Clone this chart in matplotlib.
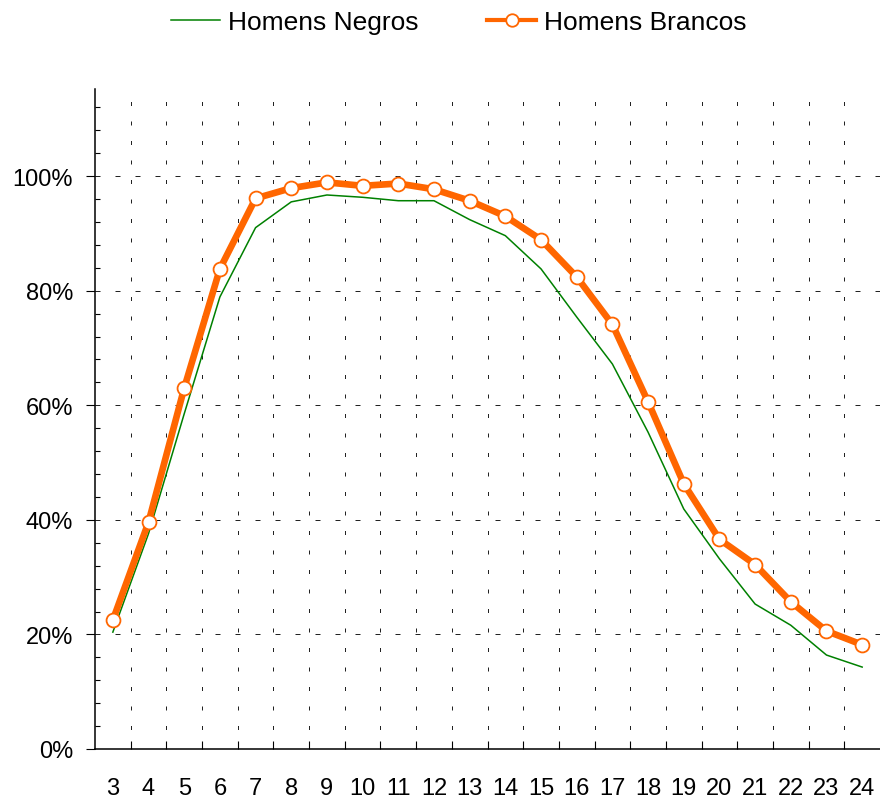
import numpy as np
import matplotlib
matplotlib.use('Agg')
import matplotlib.pyplot as plt
from matplotlib.ticker import FixedLocator, MultipleLocator, FuncFormatter

# ========== 資料 ==========
idades = [3, 4, 5, 6, 7, 8, 9, 10, 11, 12, 13, 14, 15, 16, 17, 18, 19, 20, 21, 22, 23, 24]
negros = [20.4, 37.6, 58.5, 78.9, 91.0, 95.5, 96.7, 96.3, 95.7, 95.7, 92.4, 89.6,
          83.8, 75.4, 67.2, 55.3, 41.9, 33.2, 25.3, 21.6, 16.4, 14.3]
brancos = [22.5, 39.6, 63.0, 83.8, 96.1, 97.9, 98.9, 98.3, 98.7, 97.7, 95.7, 93.0,
           88.9, 82.4, 74.1, 60.6, 46.3, 36.6, 32.2, 25.7, 20.6, 18.2]

plt.rcParams['font.family'] = ['Liberation Sans', 'DejaVu Sans']

W, H = 880, 803
fig = plt.figure(figsize=(W / 100, H / 100), dpi=100)
ax = fig.add_axes([95 / W, (H - 750) / H, 785 / W, 660 / H])

x = np.arange(len(idades))
ax.plot(x, negros, color='#008000', lw=1.1, label='Homens Negros', zorder=3)
ax.plot(x, brancos, color='#FF6600', lw=4.8, marker='o', markersize=10,
        markerfacecolor='white', markeredgecolor='#FF6600', markeredgewidth=1.3,
        label='Homens Brancos', zorder=4)

ax.set_xlim(-0.5, len(idades) - 0.5)
ax.set_ylim(0, 115.2)

# eixo x: rótulos no centro, marcas nas fronteiras
ax.set_xticks(x)
ax.set_xticklabels([str(i) for i in idades])
ax.xaxis.set_minor_locator(FixedLocator(np.arange(0.5, len(idades) - 1, 1)))
ax.tick_params(axis='x', which='major', length=0, pad=20, labelsize=17)
ax.tick_params(axis='x', which='minor', direction='in', length=5.8, width=0.8)

# eixo y
ax.yaxis.set_major_locator(FixedLocator([0, 20, 40, 60, 80, 100]))
ax.yaxis.set_minor_locator(MultipleLocator(4))
ax.yaxis.set_major_formatter(FuncFormatter(lambda v, p: f'{v:.0f}%'))
ax.tick_params(axis='y', which='major', direction='out', length=6.5, width=0.8,
               pad=9.4, labelsize=17)
ax.tick_params(axis='y', which='minor', direction='in', length=3.6, width=0.8)

# grades pontilhadas
ax.grid(which='minor', axis='x', color='#222222', lw=0.72, linestyle=(0, (4, 15.5)))
ax.grid(which='major', axis='y', color='#222222', lw=0.72, linestyle=(0, (5, 15)))
ax.set_axisbelow(True)

for s in ['top', 'right']:
    ax.spines[s].set_visible(False)
for s in ['left', 'bottom']:
    ax.spines[s].set_linewidth(1.1)

leg = fig.legend(loc='center', bbox_to_anchor=(0.5216, 0.9716), ncol=2, frameon=False,
                 fontsize=19, handlelength=1.86, handletextpad=0.3, columnspacing=2.6)
leg.get_lines()[1].set_linewidth(3)
leg.get_lines()[1].set_markersize(9)

plt.savefig('out.png', dpi=100)
plt.close()
